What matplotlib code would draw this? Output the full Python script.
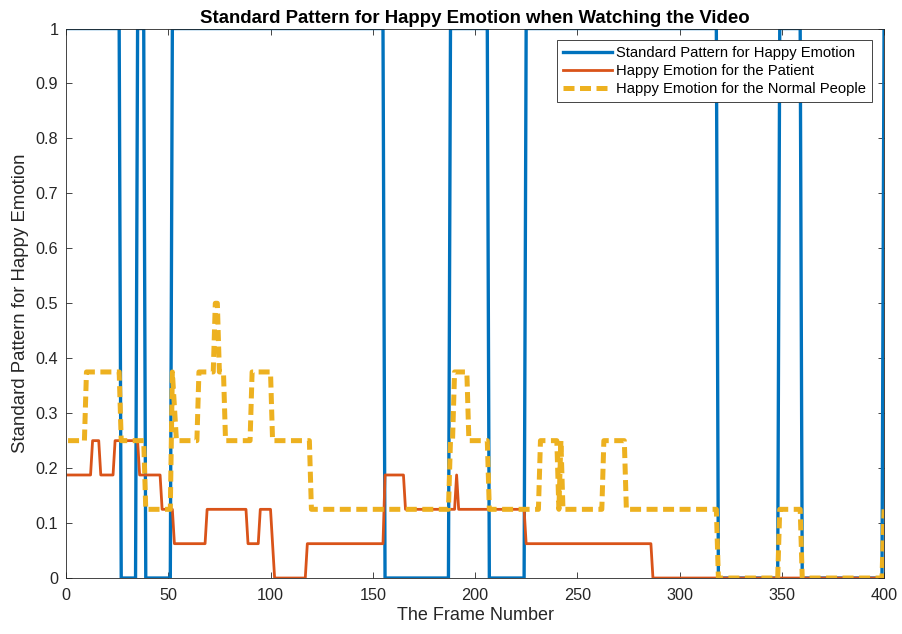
import numpy as np
import matplotlib
matplotlib.use("Agg")
import matplotlib.pyplot as plt
from matplotlib.ticker import FuncFormatter

plt.rcParams['font.family'] = ['Liberation Sans', 'DejaVu Sans']

N_FRAMES = 400

# each series as runs: frame where a run starts, and the value held through the run
std_starts = [1, 27, 35, 39, 52, 156, 188, 207, 225, 319, 349, 360, 400]
std_vals = [1, 0, 1, 0, 1, 0, 1, 0, 1, 0, 1, 0, 1]

patient_starts = [1, 13, 17, 24, 36, 47, 53, 69, 89, 95, 101, 102, 118,
                  156, 166, 191, 192, 225, 287]
patient_vals = [0.1875, 0.25, 0.1875, 0.25, 0.1875, 0.125, 0.0625, 0.125,
                0.0625, 0.125, 0.0625, 0, 0.0625, 0.1875, 0.125, 0.1875,
                0.125, 0.0625, 0]

normal_starts = [1, 10, 27, 39, 52, 53, 54, 65, 73, 75, 78, 91, 101, 120,
                 188, 190, 197, 207, 232, 241, 242, 243, 263, 274, 319,
                 349, 360, 400]
normal_vals = [0.25, 0.375, 0.25, 0.125, 0.375, 0.3125, 0.25, 0.375, 0.5,
               0.375, 0.25, 0.375, 0.25, 0.125, 0.25, 0.375, 0.25, 0.125,
               0.25, 0.125, 0.25, 0.125, 0.25, 0.125, 0, 0.125, 0, 0.125]

labels = ['Standard Pattern for Happy Emotion',
          'Happy Emotion for the Patient',
          'Happy Emotion for the Normal People']


def expand(starts, vals):
    lengths = np.diff(starts + [N_FRAMES + 1])
    return np.repeat(vals, lengths)


frames = np.arange(1, N_FRAMES + 1)
std = expand(std_starts, std_vals)
patient = expand(patient_starts, patient_vals)
normal = expand(normal_starts, normal_vals)

fig = plt.figure(figsize=(9.03, 6.34), dpi=100)
ax = fig.add_axes([0.0731, 0.0883, 0.9059, 0.8667])

ax.plot(frames, std, color='#0072BD', lw=2.4, label=labels[0])
ax.plot(frames, patient, color='#D95319', lw=2.0, label=labels[1])
ax.plot(frames, normal, color='#EDB120', lw=3.6, dashes=(2.2, 1.1),
        label=labels[2])

ax.set_xlim(0, 400)
ax.set_ylim(0, 1)
ax.set_xticks(np.arange(0, 401, 50))
ax.set_yticks(np.arange(0, 1.01, 0.1))
ax.yaxis.set_major_formatter(FuncFormatter(lambda v, p: '%g' % round(v, 1)))
ax.tick_params(direction='in', top=True, right=True, length=4, width=0.6,
               labelsize=11.7, colors='#262626')
ax.tick_params(axis='x', pad=7)
ax.tick_params(axis='y', pad=5.5)
for sp in ax.spines.values():
    sp.set_color('#262626')
    sp.set_linewidth(0.6)

ax.set_title('Standard Pattern for Happy Emotion when Watching the Video',
             fontsize=13.4, fontweight='bold', pad=4)
ax.set_xlabel('The Frame Number', fontsize=13, color='#262626', labelpad=3)
ax.set_ylabel('Standard Pattern for Happy Emotion', fontsize=13.4,
              color='#262626', labelpad=5)

leg = ax.legend(loc='upper right', fontsize=10.6, handlelength=3.3,
                fancybox=False, framealpha=1, borderaxespad=0.8,
                labelspacing=0.28, handletextpad=0.3, borderpad=0.4)
leg.get_frame().set_edgecolor('#262626')
leg.get_frame().set_linewidth(0.6)

fig.savefig('out.png', dpi=100)
